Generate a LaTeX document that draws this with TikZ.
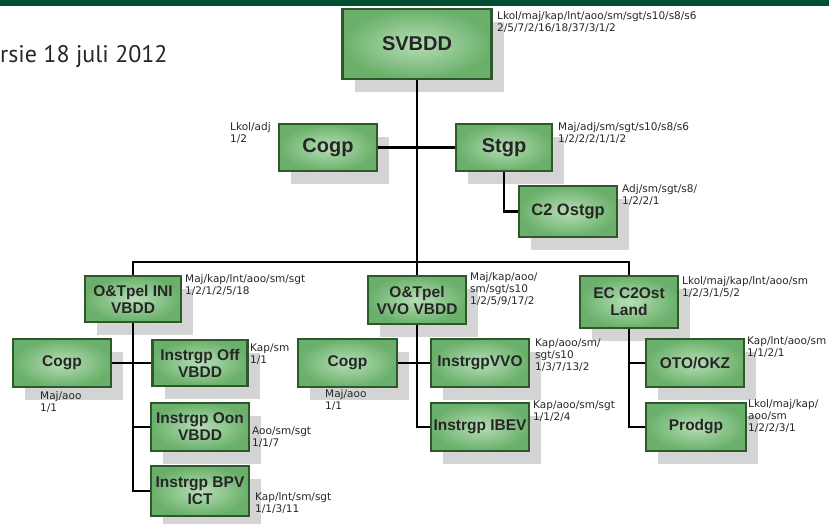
\documentclass[tikz,border=0pt]{standalone}
\usepackage{fontspec}
\setmainfont{Liberation Sans}
\newfontfamily\infofont{DejaVu Sans}
\newfontfamily\titlefont{PT Sans}
\usepackage{tikz}
\usetikzlibrary{shapes,arrows,shadows}
\definecolor{barGreen}{RGB}{0,80,52}
\definecolor{boxEdge}{RGB}{45,88,45}
\definecolor{boxGreen}{RGB}{106,176,106}
\definecolor{boxLight}{RGB}{182,222,182}

\begin{document}
\begin{tikzpicture}[x=1pt,y=-1pt,
	unit/.style={draw=boxEdge,line width=2.6pt,inner color=boxLight,outer color=boxGreen,
		general shadow={fill=black!17,shadow xshift=12pt,shadow yshift=-13pt},
		align=center,text=black!85,inner sep=0pt,minimum width=98pt,minimum height=48pt,
		font=\bfseries\fontsize{15.5}{17}\selectfont},
	bigunit/.style={unit,font=\bfseries\fontsize{20}{22}\selectfont},
	info/.style={anchor=north west,align=left,inner sep=0pt,text=black!85,
		font=\infofont\fontsize{10.5}{12}\selectfont},
	link/.style={line width=2.6pt,black}]
	\useasboundingbox (0,0) rectangle (829,524);
	\fill[barGreen] (0,0) rectangle (829,6);
	\node[anchor=west,inner sep=0pt,text=black!85,font=\titlefont\fontsize{24}{26}\selectfont] (versie) at (0,57) {rsie 18 juli 2012};

	\node[bigunit,minimum width=149pt,minimum height=70pt] (svbdd) at (417,44) {SVBDD};
	\node[bigunit,minimum height=47pt] (cogpA) at (328,147.5) {Cogp};
	\node[bigunit,minimum width=96pt,minimum height=47pt] (stgp) at (504,147.5) {Stgp};
	\node[unit,minimum height=51pt,font=\bfseries\fontsize{16.5}{18}\selectfont] (ostgp) at (568,211.5) {C2 Ostgp};

	\node[unit,minimum width=96pt,minimum height=46pt] (iniVbdd) at (133,299) {O\&Tpel INI\\VBDD};
	\node[unit] (vvoVbdd) at (417,300) {O\&Tpel\\VVO VBDD};
	\node[unit,minimum height=52pt] (ecLand) at (629,302) {EC C2Ost\\Land};

	\node[unit] (cogpB) at (62,363) {Cogp};
	\node[unit,minimum width=95pt,minimum height=46pt] (offVbdd) at (200,363) {Instrgp Off\\VBDD};
	\node[unit] (oonVbdd) at (200,427) {Instrgp Oon\\VBDD};
	\node[unit,minimum height=50pt] (bpvIct) at (200,491) {Instrgp BPV\\ICT};

	\node[unit,minimum width=99pt] (cogpC) at (347.5,363) {Cogp};
	\node[unit] (instVvo) at (480,363) {InstrgpVVO};
	\node[unit] (ibev) at (480,427) {Instrgp IBEV};

	\node[unit] (otoOkz) at (695,363) {OTO/OKZ};
	\node[unit,minimum width=100pt] (prodgp) at (696,427) {Prodgp};

	\coordinate (bus) at (417,262);
	\draw[link] (svbdd.south) -- (vvoVbdd.north);
	\draw[link] (cogpA) -- (stgp);
	\draw[link] (stgp.south) |- (ostgp.west);
	\draw[link] (iniVbdd.north) |- (bus) -| (ecLand.north);
	\draw[link] (cogpB) -- (offVbdd);
	\draw[link] (iniVbdd.south) |- (oonVbdd.west);
	\draw[link] (iniVbdd.south) |- (bpvIct.west);
	\draw[link] (cogpC) -- (instVvo);
	\draw[link] (vvoVbdd.south) |- (ibev.west);
	\draw[link] (ecLand.south) |- (otoOkz.west);
	\draw[link] (ecLand.south) |- (prodgp.west);

	\node[info] (svbddInfo) at (497,11) {Lkol/maj/kap/lnt/aoo/sm/sgt/s10/s8/s6\\2/5/7/2/16/18/37/3/1/2};
	\node[info] (cogpAInfo) at (230,122) {Lkol/adj\\1/2};
	\node[info] (stgpInfo) at (558,122) {Maj/adj/sm/sgt/s10/s8/s6\\1/2/2/2/1/1/2};
	\node[info] (ostgpInfo) at (622,184) {Adj/sm/sgt/s8/\\1/2/2/1};
	\node[info] (iniInfo) at (185,274) {Maj/kap/lnt/aoo/sm/sgt\\1/2/1/2/5/18};
	\node[info] (vvoInfo) at (470,272) {Maj/kap/aoo/\\sm/sgt/s10\\1/2/5/9/17/2};
	\node[info] (ecInfo) at (682,276) {Lkol/maj/kap/lnt/aoo/sm\\1/2/3/1/5/2};
	\node[info] (cogpBInfo) at (40,391) {Maj/aoo\\1/1};
	\node[info] (offInfo) at (250,344) {Kap/sm\\1/1};
	\node[info] (oonInfo) at (252,427) {Aoo/sm/sgt\\1/1/7};
	\node[info] (bpvInfo) at (255,492) {Kap/lnt/sm/sgt\\1/1/3/11};
	\node[info] (cogpCInfo) at (325,389) {Maj/aoo\\1/1};
	\node[info] (instVvoInfo) at (535,339) {Kap/aoo/sm/\\sgt/s10\\1/3/7/13/2};
	\node[info] (ibevInfo) at (533,401) {Kap/aoo/sm/sgt\\1/1/2/4};
	\node[info] (otoInfo) at (747,336) {Kap/lnt/aoo/sm\\1/1/2/1};
	\node[info] (prodInfo) at (748,399) {Lkol/maj/kap/\\aoo/sm\\1/2/2/3/1};
\end{tikzpicture}
\end{document}
